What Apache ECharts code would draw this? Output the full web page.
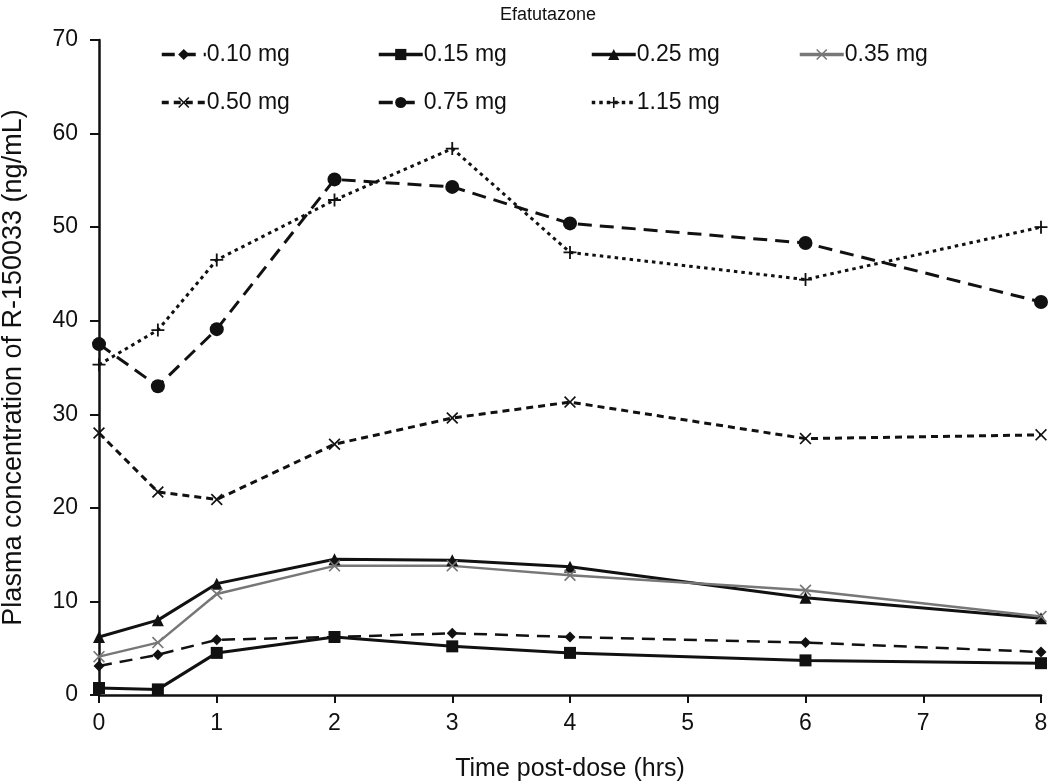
<!DOCTYPE html>
<html>
<head>
<meta charset="utf-8">
<script src="https://cdn.jsdelivr.net/npm/echarts@6/dist/echarts.min.js"></script>
<style>
  html, body { margin: 0; padding: 0; background: #fff; }
  #chart { width: 1050px; height: 784px; }
</style>
</head>
<body>
<div id="chart"></div>
<script>
(function(){

    // time points (hrs)
    var times = [0, 0.5, 1, 2, 3, 4, 6, 8];

    // plasma concentration (ng/mL) per dose
    var dose010 = [3.1, 4.3, 5.9, 6.2, 6.6, 6.2, 5.6, 4.6];
    var dose015 = [0.75, 0.6, 4.5, 6.2, 5.2, 4.5, 3.7, 3.4];
    var dose025 = [6.2, 8.0, 11.9, 14.5, 14.4, 13.7, 10.4, 8.2];
    var dose035 = [4.1, 5.6, 10.8, 13.8, 13.8, 12.8, 11.2, 8.4];
    var dose050 = [28.0, 21.7, 20.9, 26.8, 29.6, 31.3, 27.4, 27.8];
    var dose075 = [37.5, 33.0, 39.1, 55.1, 54.3, 50.4, 48.3, 42.0];
    var dose115 = [35.3, 39.0, 46.5, 52.9, 58.4, 47.3, 44.4, 50.0];

    var names = ['0.10 mg', '0.15 mg', '0.25 mg', '0.35 mg', '0.50 mg', '0.75 mg', '1.15 mg'];
    var yTicks = [0, 10, 20, 30, 40, 50, 60, 70];
    var xTicks = [0, 1, 2, 3, 4, 5, 6, 7, 8];

    var font = '"Liberation Sans", Arial, sans-serif';

    var xMark = 'path://M0,1 L1,0 L5,4 L9,0 L10,1 L6,5 L10,9 L9,10 L5,6 L1,10 L0,9 L4,5 Z';
    var plusMark = 'path://M4.3,0 L5.7,0 L5.7,4.3 L10,4.3 L10,5.7 L5.7,5.7 L5.7,10 L4.3,10 L4.3,5.7 L0,5.7 L0,4.3 L4.3,4.3 Z';

    function pairs(vals) {
        return vals.map(function(v, i){ return [times[i], v]; });
    }

    function makeSeries(name, vals, color, width, dash, symbol, size) {
        return {
            name: name,
            type: 'line',
            data: pairs(vals),
            symbol: symbol,
            symbolSize: size,
            showAllSymbol: true,
            clip: false,
            lineStyle: { color: color, width: width, type: dash },
            itemStyle: { color: color },
            emphasis: { disabled: true }
        };
    }

    var series = [
        makeSeries(names[0], dose010, '#111', 2.5, [13, 8], 'diamond', 11),
        makeSeries(names[1], dose015, '#111', 3, 'solid', 'rect', 12),
        makeSeries(names[2], dose025, '#111', 3, 'solid', 'triangle', 12),
        makeSeries(names[3], dose035, '#777', 2.5, 'solid', xMark, 12),
        makeSeries(names[4], dose050, '#111', 3, [7, 5], xMark, 12),
        makeSeries(names[5], dose075, '#111', 3, [14, 8], 'circle', 14),
        makeSeries(names[6], dose115, '#111', 3, [3.5, 4], plusMark, 13)
    ];

    // one legend box per entry: 4 on the first row, 3 on the second
    var legendLeft = [160, 377, 590, 798];
    var legendTop = [43, 91];
    var legends = names.map(function(n, i){
        return {
            data: [n],
            left: legendLeft[i % 4],
            top: legendTop[Math.floor(i / 4)],
            itemWidth: 44,
            itemHeight: 14,
            itemGap: 0,
            padding: 0,
            selectedMode: false,
            lineStyle: { width: 3.5 },
            textStyle: { fontFamily: font, fontSize: 23, color: '#111', padding: [0, 0, 0, -4] }
        };
    });

    var chart = echarts.init(document.getElementById('chart'));
    var option = {
        backgroundColor: '#fff',
        animation: false,
        title: {
            text: 'Efatutazone',
            left: 543,
            top: 1,
            textAlign: 'center',
            textStyle: { fontFamily: font, fontSize: 18, fontWeight: 'normal', color: '#111' }
        },
        legend: legends,
        grid: { left: 99, right: 9, top: 40, bottom: 89, outerBoundsMode: 'none' },
        xAxis: {
            type: 'value',
            min: xTicks[0],
            max: xTicks[xTicks.length - 1],
            interval: 1,
            name: 'Time post-dose (hrs)',
            nameLocation: 'middle',
            nameGap: 62,
            nameTextStyle: { fontFamily: font, fontSize: 25, color: '#111' },
            axisLine: { lineStyle: { color: '#111', width: 2.5 } },
            axisTick: { show: true, inside: false, length: 8, lineStyle: { color: '#111', width: 2 } },
            axisLabel: { fontFamily: font, fontSize: 23, color: '#111', margin: 17 },
            splitLine: { show: false }
        },
        yAxis: {
            type: 'value',
            min: yTicks[0],
            max: yTicks[yTicks.length - 1],
            interval: 10,
            name: 'Plasma concentration of R-150033 (ng/mL)',
            nameLocation: 'middle',
            nameGap: 72,
            nameTextStyle: { fontFamily: font, fontSize: 27, color: '#111' },
            axisLine: { show: true, lineStyle: { color: '#111', width: 2.5 } },
            axisTick: { show: true, inside: false, length: 9, lineStyle: { color: '#111', width: 2 } },
            axisLabel: { fontFamily: font, fontSize: 23, color: '#111', margin: 21 },
            splitLine: { show: false }
        },
        series: series
    };
    chart.setOption(option);

})();
</script>
</body>
</html>
